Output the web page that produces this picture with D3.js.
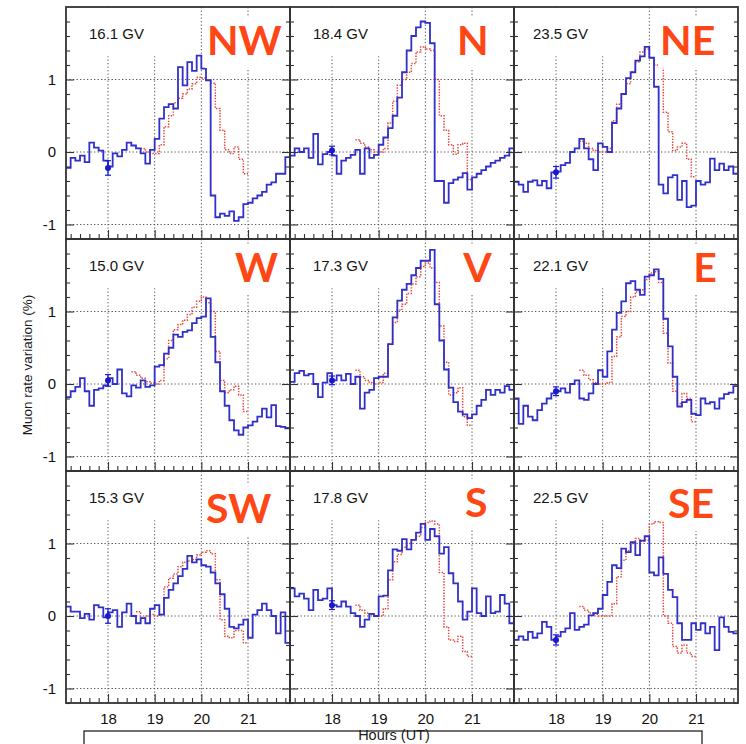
<!DOCTYPE html>
<html><head><meta charset="utf-8">
<script src="https://cdn.jsdelivr.net/npm/d3@7"></script>
<style>body{margin:0;background:#fff}svg{display:block}</style>
</head><body><svg id="c" width="746" height="744"></svg>
<script>
// ---------- DATA ----------
const panels = ["NW","N","NE","W","V","E","SW","S","SE"];
const rigidity = ["16.1 GV","18.4 GV","23.5 GV","15.0 GV","17.3 GV","22.1 GV","15.3 GV","17.8 GV","22.5 GV"];
const xTicks = [18,19,20,21];
const yTicks = [-1,0,1];

// blue: 0.1 h bins starting at 17.1 h (muon rate variation, %)
const blueNW = [-0.22,-0.08,-0.12,-0.05,-0.14,0.13,0.06,0.02,-0.12,
 -0.2,-0.02,-0.06,0.03,0.13,0.09,0.05,-0.02,-0.16,0.03,
 0.18,0.46,0.62,0.66,0.6,1.17,0.92,1.24,1.12,1.33,
 1.15,0.99,-0.6,-0.9,-0.85,-0.88,-0.82,-0.95,-0.9,-0.72,
 -0.7,-0.64,-0.6,-0.55,-0.45,-0.42,-0.3,-0.3,-0.07];
const blueN = [-0.05,0.05,0.0,0.05,-0.08,0.25,-0.17,-0.03,0.0,
 -0.05,-0.3,-0.12,-0.08,-0.04,0.03,-0.3,0.05,-0.08,-0.04,
 0.1,0.2,0.33,0.5,0.75,1.1,1.4,1.6,1.72,1.8,
 1.78,1.5,-0.4,-0.4,-0.7,-0.43,-0.38,-0.35,-0.29,-0.52,
 -0.35,-0.3,-0.25,-0.2,-0.15,-0.12,-0.08,-0.05,0.05];
const blueNE = [-0.41,-0.45,-0.55,-0.41,-0.39,-0.46,-0.4,-0.5,-0.28,
 -0.27,-0.18,-0.15,0.0,0.05,0.18,0.05,-0.1,-0.25,0.12,
 0.07,0.0,0.4,0.6,0.8,1.02,1.1,1.26,1.32,1.45,
 1.3,0.9,-0.45,-0.57,-0.35,-0.32,-0.66,-0.4,-0.76,-0.74,
 -0.4,-0.45,-0.42,-0.09,-0.25,-0.16,-0.25,-0.2,-0.3];
const blueW = [-0.18,-0.1,-0.04,0.08,-0.1,-0.3,-0.08,-0.06,-0.02,
 0.08,0.0,0.2,-0.13,-0.17,-0.02,-0.05,0.05,-0.04,-0.02,
 0.24,0.26,0.42,0.5,0.68,0.65,0.72,0.74,0.84,0.91,
 0.93,1.18,0.65,0.3,-0.1,-0.3,-0.5,-0.64,-0.7,-0.6,
 -0.57,-0.52,-0.45,-0.34,-0.46,-0.29,-0.58,-0.59,-0.61];
const blueV = [0.03,0.15,0.18,0.12,0.14,0.0,-0.18,0.02,0.15,
 0.05,0.12,0.05,0.14,0.0,0.1,-0.34,-0.12,-0.08,0.08,
 0.1,0.1,0.55,0.92,1.15,1.3,1.38,1.5,1.6,1.7,
 1.7,1.85,1.1,0.6,0.2,-0.05,-0.25,-0.38,-0.42,-0.47,
 -0.42,-0.3,-0.22,-0.08,-0.15,-0.08,-0.12,-0.03,-0.08];
const blueE = [-0.2,-0.55,-0.3,-0.45,-0.5,-0.36,-0.27,-0.2,-0.13,
 -0.1,-0.06,-0.12,0.0,0.05,-0.2,-0.22,-0.13,0.0,0.19,
 0.1,0.45,0.75,0.98,1.14,1.39,1.42,1.3,1.23,1.48,
 1.5,1.58,1.45,0.9,0.52,0.1,-0.31,-0.25,-0.22,-0.41,
 -0.43,-0.2,-0.27,-0.25,-0.34,-0.2,-0.14,-0.12,-0.03];
const blueSW = [0.13,0.06,0.06,-0.03,0.03,-0.05,0.15,0.12,-0.02,
 0.05,0.08,-0.15,0.05,0.17,0.0,-0.1,-0.03,-0.1,0.1,
 0.15,0.02,0.25,0.36,0.45,0.55,0.65,0.83,0.74,0.78,
 0.7,0.68,0.6,0.45,0.3,0.1,-0.15,-0.17,-0.12,-0.05,
 -0.3,0.02,0.08,0.17,0.08,0.0,-0.24,0.05,-0.37];
const blueS = [0.38,0.27,0.31,0.24,0.08,0.36,0.22,0.24,0.38,
 0.15,0.13,0.2,0.13,0.04,0.0,-0.15,-0.05,0.03,0.0,
 0.27,0.28,0.63,0.92,0.9,1.06,0.92,1.05,1.15,1.27,
 1.05,1.2,1.1,0.86,0.95,0.59,0.45,0.2,-0.05,0.06,
 0.38,0.04,0.0,0.27,0.04,0.06,0.29,0.17,-0.1];
const blueSE = [-0.33,-0.28,-0.33,-0.22,-0.3,-0.24,-0.08,-0.15,-0.33,
 -0.28,-0.22,-0.17,0.04,-0.19,-0.15,-0.12,0.01,0.04,0.1,
 0.29,0.47,0.7,0.66,0.93,0.88,1.02,0.84,1.04,1.1,
 0.6,0.56,0.81,0.58,0.36,0.26,-0.1,-0.33,-0.33,-0.1,
 -0.19,-0.1,-0.24,-0.15,-0.47,-0.02,-0.15,-0.22,-0.24];

// red dotted: 0.1 h bins starting at 18.5 h
const redNW = [null,null,0.05,0.0,-0.02, -0.02,0.1,0.35,0.5,0.68,0.74,0.8,0.87,0.94,1.03, 1.02,0.99,0.95,0.6,0.3,0.03,-0.02,0.07,-0.1,-0.3];
const redN  = [0.17,0.12,0.07,0.03,0.0, 0.0,0.05,0.4,0.7,0.92,1.0,1.1,1.22,1.38,1.45, 1.42,1.4,1.0,0.5,0.3,0.1,-0.03,0.1,0.12,-0.38];
const redNE = [0.15,0.12,0.05,0.02,0.0, 0.0,0.05,0.43,0.66,0.8,0.94,1.1,1.24,1.38,1.42, 1.3,1.2,1.17,0.55,0.28,0.02,0.07,0.12,-0.1,-0.34];
const redW  = [0.17,0.12,0.08,0.03,0.01, 0.0,0.05,0.35,0.6,0.75,0.82,0.88,0.96,1.06,1.14, 1.2,1.12,1.0,0.45,0.05,-0.12,-0.08,-0.03,-0.15,-0.38];
const redV  = [0.19,0.1,0.05,0.02,0.0, 0.02,0.15,0.55,0.85,1.02,1.1,1.25,1.38,1.48,1.62, 1.67,1.6,1.4,0.8,0.3,-0.15,-0.12,-0.05,-0.45,-0.57];
const redE  = [0.19,0.12,0.06,0.02,0.0, 0.0,0.02,0.38,0.65,0.93,1.0,1.2,1.27,1.3,1.44, 1.53,1.55,1.4,0.7,0.29,-0.1,-0.27,-0.13,-0.2,-0.52];
const redSW = [null,0.06,-0.02,0.0,0.02, 0.0,0.02,0.4,0.52,0.58,0.68,0.74,0.76,0.78,0.84, 0.88,0.9,0.86,0.5,-0.05,-0.28,-0.3,-0.2,-0.2,-0.37];
const redS  = [0.15,0.08,0.04,0.02,0.0, 0.0,0.1,0.5,0.75,0.85,0.95,1.0,1.05,1.1,1.22, 1.29,1.31,1.27,0.6,-0.15,-0.33,-0.35,-0.28,-0.49,-0.56];
const redSE = [0.13,0.08,0.04,0.02,0.0, 0.0,0.0,0.17,0.54,0.77,0.9,1.0,1.07,1.03,1.05, 1.27,1.3,1.29,0.0,-0.1,-0.42,-0.51,-0.4,-0.51,-0.56];

// reference point with error bar at 18.0 h
const refHour = 18.0;
const refValue = [-0.22,0.02,-0.28,0.05,0.05,-0.1,0.0,0.15,-0.33];
const refError = [0.1,0.06,0.08,0.08,0.06,0.06,0.1,0.06,0.07];

// direction annotation anchors (hour, value of baseline)
const labelHour  = [20.12,20.68,20.23,20.72,20.81,20.94,20.10,20.85,20.40];
const labelValue = [1.34,1.34,1.34,1.41,1.41,1.41,1.28,1.37,1.35];

const blueSeries = [blueNW,blueN,blueNE,blueW,blueV,blueE,blueSW,blueS,blueSE];
const redSeries  = [redNW,redN,redNE,redW,redV,redE,redSW,redS,redSE];
const blueStart = 17.1, redStart = 18.5, binW = 0.1;

// ---------- LAYOUT ----------
const svg = d3.select("#c");
const colX = [66,290,514], rowY = [7,239,471], PW = 224, PH = 232;
const xDomain = [17.1,21.9], yDomain = [-1.2,2.0];
const FONT = "'Liberation Sans', Arial, Helvetica, sans-serif";
const BLUE = "#3030c8", RED = "#e5473d", ORANGE = "#ff4715";
const defs = svg.append("defs");
svg.append("rect").attr("width",746).attr("height",744).attr("fill","#fff");

const xMinor = d3.range(17.2, 21.9, 0.2).filter(v => Math.abs(v-Math.round(v))>0.05);
const yMinor = d3.range(-1.2, 2.0, 0.2).filter(v => Math.abs(v-Math.round(v))>0.05);

function toPts(arr, start){
  const pts = arr.map((v,i)=>({h:start+i*binW, v}));
  pts.push({h:start+arr.length*binW, v:arr[arr.length-1]});
  return pts;
}

panels.forEach((name,k)=>{
  const c = k%3, r = Math.floor(k/3);
  const L = colX[c], T = rowY[r];
  const x = d3.scaleLinear().domain(xDomain).range([L, L+PW]);
  const y = d3.scaleLinear().domain(yDomain).range([T+PH, T]);
  const g = svg.append("g");
  defs.append("clipPath").attr("id","clip"+k).append("rect")
    .attr("x",L).attr("y",T).attr("width",PW).attr("height",PH);

  // grid
  const grid = g.append("g").attr("stroke","#555").attr("stroke-width",1).attr("stroke-dasharray","1.3,2.2");
  yTicks.forEach(v=> grid.append("line").attr("x1",L).attr("x2",L+PW).attr("y1",y(v)).attr("y2",y(v)));
  xTicks.forEach(h=> grid.append("line").attr("x1",x(h)).attr("x2",x(h)).attr("y1",T).attr("y2",T+PH));
  // label box of rigidity text hides grid top
  g.append("rect").attr("x",L+8).attr("y",T+1).attr("width",x(19)+4-(L+8)).attr("height",y(1.32)-T-1).attr("fill","#fff");

  const data = g.append("g").attr("clip-path",`url(#clip${k})`);
  const line = d3.line().x(d=>x(d.h)).y(d=>y(d.v)).curve(d3.curveStepAfter).defined(d=>d.v!=null);
  data.append("path").attr("d", line(toPts(redSeries[k], redStart)))
    .attr("fill","none").attr("stroke",RED).attr("stroke-width",1.5).attr("stroke-dasharray","1.4,1.4");
  data.append("path").attr("d", line(toPts(blueSeries[k], blueStart)))
    .attr("fill","none").attr("stroke",BLUE).attr("stroke-width",1.8);

  // reference point
  const rx = x(refHour), ry0 = y(refValue[k]-refError[k]), ry1 = y(refValue[k]+refError[k]);
  data.append("line").attr("x1",rx).attr("x2",rx).attr("y1",ry0).attr("y2",ry1).attr("stroke","#1a1acc").attr("stroke-width",1.3);
  data.append("line").attr("x1",rx-3).attr("x2",rx+3).attr("y1",ry0).attr("y2",ry0).attr("stroke","#1a1acc").attr("stroke-width",1.2);
  data.append("line").attr("x1",rx-3).attr("x2",rx+3).attr("y1",ry1).attr("y2",ry1).attr("stroke","#1a1acc").attr("stroke-width",1.2);
  data.append("circle").attr("cx",rx).attr("cy",y(refValue[k])).attr("r",3).attr("fill","#1a1acc");

  // ticks via axes
  const tickStyle = sel => { sel.select(".domain").remove(); sel.selectAll("line").attr("stroke","#333").attr("stroke-width",1.1); };
  g.append("g").attr("transform",`translate(0,${T+PH})`).call(d3.axisBottom(x).tickValues(xMinor).tickSize(-5).tickFormat("")).call(tickStyle);
  g.append("g").attr("transform",`translate(0,${T+PH})`).call(d3.axisBottom(x).tickValues(xTicks).tickSize(-9).tickFormat("")).call(tickStyle);
  g.append("g").attr("transform",`translate(${L},0)`).call(d3.axisLeft(y).tickValues(yMinor).tickSize(-4).tickFormat("")).call(tickStyle);
  g.append("g").attr("transform",`translate(${L},0)`).call(d3.axisLeft(y).tickValues(yTicks).tickSize(-8).tickFormat("")).call(tickStyle);
  g.append("g").attr("transform",`translate(${L+PW},0)`).call(d3.axisRight(y).tickValues(yMinor).tickSize(-4).tickFormat("")).call(tickStyle);
  g.append("g").attr("transform",`translate(${L+PW},0)`).call(d3.axisRight(y).tickValues(yTicks).tickSize(-8).tickFormat("")).call(tickStyle);

  // tick labels
  if (r===2){
    const ax = g.append("g").attr("transform",`translate(0,${T+PH})`)
      .call(d3.axisBottom(x).tickValues(xTicks).tickSize(0).tickPadding(10).tickFormat(d=>String(d)));
    ax.select(".domain").remove();
    ax.selectAll("text").attr("font-family",FONT).attr("font-size",15).attr("fill","#111");
  }
  if (c===0){
    const ay = g.append("g").attr("transform",`translate(${L},0)`)
      .call(d3.axisLeft(y).tickValues(yTicks).tickSize(0).tickPadding(10).tickFormat(d=>String(d)));
    ay.select(".domain").remove();
    ay.selectAll("text").attr("font-family",FONT).attr("font-size",15).attr("fill","#111");
  }

  // border
  g.append("rect").attr("x",L).attr("y",T).attr("width",PW).attr("height",PH)
    .attr("fill","none").attr("stroke","#333").attr("stroke-width",1.8);

  // rigidity label
  g.append("text").attr("x",L+(c===2?19:23)).attr("y",T+32).text(rigidity[k])
    .attr("font-family",FONT).attr("font-size",15).attr("fill","#151515");

  // direction annotation
  const lg = g.append("g");
  const t = lg.append("text").attr("x",x(labelHour[k])).attr("y",y(labelValue[k])).text(name)
    .attr("font-family","Lato, 'Open Sans', sans-serif").attr("font-weight",700).attr("font-size",41).attr("fill",ORANGE);
  const bb = t.node().getBBox();
  lg.insert("rect","text").attr("x",bb.x-2).attr("y",bb.y+2).attr("width",bb.width+4).attr("height",bb.height+2).attr("fill","#fff");
});

// caption box at bottom
svg.append("rect").attr("x",84).attr("y",731).attr("width",618).attr("height",40)
  .attr("fill","#fff").attr("stroke","#111").attr("stroke-width",1.2);
svg.append("text").attr("x",394).attr("y",740).attr("text-anchor","middle").text("Hours (UT)")
  .attr("font-family",FONT).attr("font-size",14.5).attr("fill","#1a1a1a");
svg.append("text").attr("transform","translate(32,365) rotate(-90)").attr("text-anchor","middle")
  .text("Muon rate variation (%)").attr("font-family",FONT).attr("font-size",13.5).attr("fill","#1a1a1a");
</script></body></html>
